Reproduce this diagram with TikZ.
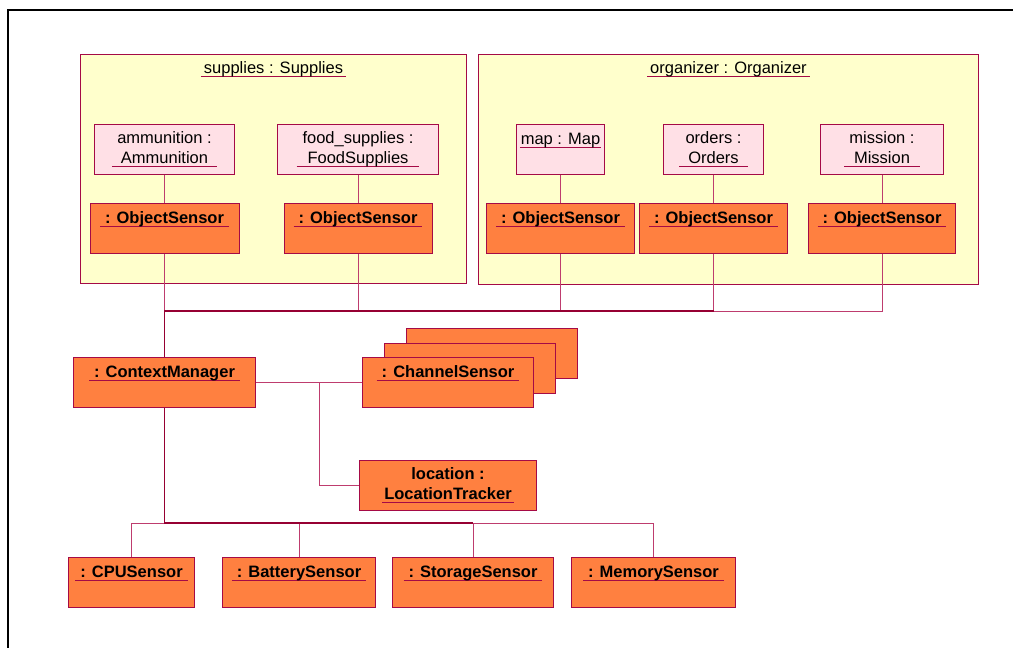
\documentclass[tikz,border=0pt]{standalone}
\usepackage{fontspec}
\setmainfont{Liberation Sans}
\usepackage{xcolor}
\usepackage{tikz}
\usetikzlibrary{positioning,calc}
\definecolor{umlborder}{RGB}{165,10,70}
\definecolor{umllink}{RGB}{190,60,110}
\definecolor{trunkred}{RGB}{150,0,50}
\definecolor{objorange}{RGB}{255,128,64}
\definecolor{partpink}{RGB}{255,224,230}
\definecolor{pkgyellow}{RGB}{255,255,204}
\newcommand{\umlreg}{\fontsize{16.5}{20.5}\selectfont}
\newcommand{\umlbold}{\fontsize{16.5}{20}\selectfont\bfseries}
\newsavebox{\unamebox}
\newcommand{\uname}[2][3pt]{\sbox{\unamebox}{\kern#1#2\kern#1}\rlap{\color{umlborder}\rule[-3.6pt]{\wd\unamebox}{1pt}}\usebox{\unamebox}}

\begin{document}
\begin{tikzpicture}[
    x=1pt, y=-1pt,
    container/.style={rectangle, draw=umlborder, fill=pkgyellow, line width=1pt, anchor=north west, inner sep=0pt},
    part/.style={rectangle, draw=umlborder, fill=partpink, line width=1pt, align=center, minimum height=49.5pt, inner sep=0pt, font=\umlreg},
    toppart/.style={part, text height=20pt, text depth=29.5pt},
    object/.style={rectangle, draw=umlborder, fill=objorange, line width=1pt, minimum height=50pt, inner sep=0pt, text height=20pt, text depth=30pt, font=\umlbold},
    object2/.style={rectangle, draw=umlborder, fill=objorange, line width=1pt, minimum height=50pt, inner sep=0pt, align=center, font=\umlbold},
    title/.style={inner sep=0pt, font=\umlreg},
    link/.style={draw=umllink, line width=0.9pt},
    trunk/.style={draw=trunkred, line width=1.8pt},
]
\useasboundingbox (0,0) rectangle (1013,648);
\draw[line width=2pt] (7.5,648) -- (7.5,9.5) -- (1013,9.5);

% === SUPPLIES ===
\node[container, minimum width=386pt, minimum height=229pt] (supplies) at (80,54) {};
\node[title, below=7.5pt of supplies.north] (suptitle) {\uname{supplies : Supplies}};
\node[part, anchor=north west, minimum width=140pt] (ammunition) at (94,124) {ammunition :\\\uname[9pt]{Ammunition}};
\node[part, anchor=north west, minimum width=161pt] (food) at (277,124) {food\_supplies :\\\uname[11pt]{FoodSupplies}};
\node[object, minimum width=149pt, below=28.5pt of ammunition] (os1) {\uname[5pt]{: ObjectSensor}};
\node[object, minimum width=148pt, below=28.5pt of food] (os2) {\uname[5pt]{: ObjectSensor}};

% === ORGANIZER ===
\node[container, minimum width=500pt, minimum height=230pt] (organizer) at (478,54) {};
\node[title, below=7.5pt of organizer.north] (orgtitle) {\uname{organizer : Organizer}};
\node[toppart, anchor=north west, minimum width=88pt] (map) at (516,124) {\uname[1pt]{map : Map}};
\node[part, anchor=north west, minimum width=100pt] (orders) at (663,124) {orders :\\\uname[9pt]{Orders}};
\node[part, anchor=north west, minimum width=123pt] (mission) at (820,124) {mission :\\\uname[10pt]{Mission}};
\node[object, minimum width=148pt, below=28.5pt of map] (os3) {\uname[5pt]{: ObjectSensor}};
\node[object, minimum width=148pt, below=28.5pt of orders] (os4) {\uname[5pt]{: ObjectSensor}};
\node[object, minimum width=147pt, below=28.5pt of mission] (os5) {\uname[5pt]{: ObjectSensor}};

% === CONTEXT MANAGER AND CHANNELS ===
\node[object, anchor=north west, minimum width=182pt] (cm) at (73,357) {\uname[5pt]{: ContextManager}};
\node[object, anchor=north west, minimum width=171pt] (chan3) at (406,328) {};
\node[object, anchor=north west, minimum width=171pt] (chan2) at (384,343) {};
\node[object, anchor=north west, minimum width=171pt] (chan) at (362,357) {\uname[5pt]{: ChannelSensor}};
\node[object2, anchor=north west, minimum width=177pt] (loc) at (359,460) {location :\\\uname[2pt]{LocationTracker}};

% === DEVICE SENSORS ===
\node[object, anchor=north west, minimum width=126pt] (cpu) at (68,557) {\uname[5pt]{: CPUSensor}};
\node[object, minimum width=153pt, right=27pt of cpu] (battery) {\uname[5pt]{: BatterySensor}};
\node[object, minimum width=161pt, right=16pt of battery] (storage) {\uname[5pt]{: StorageSensor}};
\node[object, minimum width=164pt, right=17pt of storage] (memory) {\uname[5pt]{: MemorySensor}};

\coordinate (topbus) at (0,311);
\coordinate (lowbus) at (0,523);

% === LINKS ===
\draw[link] (ammunition) -- (ammunition |- os1.north);
\draw[link] (food) -- (food |- os2.north);
\draw[link] (map) -- (map |- os3.north);
\draw[link] (orders) -- (orders |- os4.north);
\draw[link] (mission) -- (mission |- os5.north);

\draw[link] (cm.north) -- (cm.north |- os1.south);
\foreach \s in {os2,os3,os4,os5}
  \draw[link] (cm.north) -- (cm.north |- topbus) -| (\s.south);
\foreach \s in {cpu,battery,storage,memory}
  \draw[link] (cm.south) -- (cm.south |- lowbus) -| (\s.north);
\draw[link] (cm.east) -- (chan.west);
\draw[link] (cm.east) -- ++(63,0) |- (loc.west);

% shared runs
\draw[trunk] (cm.north) |- (os4.south |- topbus);
\draw[trunk] (cm.south) |- (storage.north |- lowbus);

\end{tikzpicture}
\end{document}
